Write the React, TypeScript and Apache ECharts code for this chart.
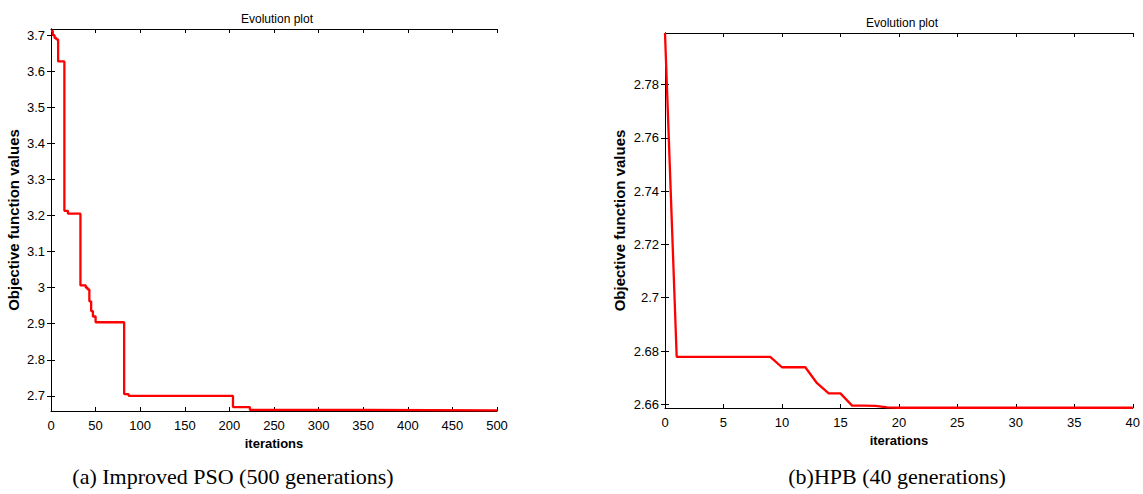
import React, { useEffect, useRef } from "react";
import * as echarts from "echarts";

// Left panel: Improved PSO (step curve, value holds from iteration until next change)
const psoIterations = [0, 2, 4, 6, 8, 15, 19, 33, 39, 41, 43, 45, 47, 50, 82, 87, 204, 223, 353, 500];
const psoValues = [3.712, 3.700, 3.692, 3.688, 3.627, 3.213, 3.205, 3.006, 3.000, 2.995, 2.962, 2.935, 2.920, 2.904, 2.705, 2.700, 2.669, 2.661, 2.6595, 2.6595];
const psoYTicks = [2.7, 2.8, 2.9, 3, 3.1, 3.2, 3.3, 3.4, 3.5, 3.6, 3.7];

// Right panel: HPB
const hpbIterations = Array.from({ length: 41 }, (_, i) => i);
const hpbValues = [
  2.7994, 2.6778, 2.6778, 2.6778, 2.6778, 2.6778, 2.6778, 2.6778, 2.6778, 2.6778,
  2.6739, 2.6739, 2.6739, 2.6679, 2.6641, 2.6641, 2.6595, 2.6595, 2.6594, 2.6588,
  2.6587, 2.6587, 2.6587, 2.6587, 2.6587, 2.6587, 2.6587, 2.6587, 2.6587, 2.6587,
  2.6587, 2.6587, 2.6587, 2.6587, 2.6587, 2.6587, 2.6587, 2.6587, 2.6587, 2.6587,
  2.6587,
];
const hpbYTicks = [2.66, 2.68, 2.7, 2.72, 2.74, 2.76, 2.78];

const titleText = "Evolution plot";
const xName = "iterations";
const yName = "Objective function values";
const captionA = "(a) Improved PSO (500 generations)";
const captionB = "(b)HPB (40 generations)";

const FONT = "Liberation Sans, Arial, sans-serif";
const black = "#000";

function mainX(gridIndex: number, max: number, interval: number, gap: number) {
  return {
    type: "value",
    gridIndex,
    min: 0,
    max,
    interval,
    position: "bottom",
    name: xName,
    nameLocation: "middle",
    nameGap: gap,
    nameTextStyle: { fontFamily: FONT, fontSize: 13, fontWeight: "bold", color: black },
    axisLine: { show: true, lineStyle: { color: black, width: 1 } },
    axisTick: { show: true, inside: true, length: 4, lineStyle: { color: black } },
    axisLabel: { fontFamily: FONT, fontSize: 13, color: black, margin: 8 },
    splitLine: { show: false },
  };
}
function topX(gridIndex: number, max: number, interval: number) {
  return {
    type: "value",
    gridIndex,
    min: 0,
    max,
    interval,
    position: "top",
    axisLine: { show: true, lineStyle: { color: black, width: 1 } },
    axisTick: { show: true, inside: true, length: 4, lineStyle: { color: black } },
    axisLabel: { show: false },
    splitLine: { show: false },
  };
}
function mainY(gridIndex: number, min: number, max: number, ticks: number[], gap: number) {
  return {
    type: "value",
    gridIndex,
    min,
    max,
    position: "left",
    name: yName,
    nameLocation: "middle",
    nameGap: gap,
    nameRotate: 90,
    nameTextStyle: { fontFamily: FONT, fontSize: 15, fontWeight: "bold", color: black },
    axisLine: { show: true, lineStyle: { color: black, width: 1 } },
    axisTick: { show: true, inside: true, length: 4, customValues: ticks, lineStyle: { color: black } },
    axisLabel: { fontFamily: FONT, fontSize: 13, color: black, margin: 6, customValues: ticks, showMinLabel: true, showMaxLabel: true },
    splitLine: { show: false },
  };
}
function rightY(gridIndex: number, min: number, max: number, ticks: number[]) {
  return {
    type: "value",
    gridIndex,
    min,
    max,
    position: "right",
    axisLine: { show: true, lineStyle: { color: black, width: 1 } },
    axisTick: { show: true, inside: true, length: 4, customValues: ticks, lineStyle: { color: black } },
    axisLabel: { show: false },
    splitLine: { show: false },
  };
}

export default function App() {
  const ref = useRef<HTMLDivElement>(null);
  useEffect(() => {
    if (!ref.current) return;
    const chart = echarts.init(ref.current, undefined, { renderer: "svg" });
    chart.setOption({
      animation: false,
      backgroundColor: "#fff",
      title: [
        { text: titleText, left: 272, top: 8, textAlign: "center", textStyle: { fontFamily: FONT, fontSize: 12, fontWeight: "normal", color: black } },
        { text: titleText, left: 897, top: 12, textAlign: "center", textStyle: { fontFamily: FONT, fontSize: 12, fontWeight: "normal", color: black } },
      ],
      grid: [
        { left: 51, top: 29, width: 446, height: 382, containLabel: false },
        { left: 665, top: 33, width: 470, height: 375, containLabel: false },
      ],
      xAxis: [mainX(0, 500, 50, 26), topX(0, 500, 50), mainX(1, 40, 5, 22), topX(1, 40, 5)],
      yAxis: [
        mainY(0, 2.658, 3.717, psoYTicks, 30),
        rightY(0, 2.658, 3.717, psoYTicks),
        mainY(1, 2.6586, 2.7994, hpbYTicks, 38),
        rightY(1, 2.6586, 2.7994, hpbYTicks),
      ],
      series: [
        {
          type: "line",
          xAxisIndex: 0,
          yAxisIndex: 0,
          step: "end",
          showSymbol: false,
          symbol: "none",
          lineStyle: { color: "#ff0000", width: 2.3 },
          data: psoIterations.map((x, i) => [x, psoValues[i]]),
          clip: false,
        },
        {
          type: "line",
          xAxisIndex: 2,
          yAxisIndex: 2,
          showSymbol: false,
          symbol: "none",
          lineStyle: { color: "#ff0000", width: 2.3 },
          data: hpbIterations.map((x, i) => [x, hpbValues[i]]),
          clip: false,
        },
      ],
      graphic: [
        { type: "text", x: 233, y: 476, style: { text: captionA, font: "22px 'Liberation Serif', 'Times New Roman', serif", fill: black, textAlign: "center", textVerticalAlign: "middle" } },
        { type: "text", x: 897, y: 476, style: { text: captionB, font: "22px 'Liberation Serif', 'Times New Roman', serif", fill: black, textAlign: "center", textVerticalAlign: "middle" } },
      ],
    });
    return () => chart.dispose();
  }, []);
  return <div ref={ref} style={{ position: "fixed", left: 0, top: 0, width: 1143, height: 494 }} />;
}
